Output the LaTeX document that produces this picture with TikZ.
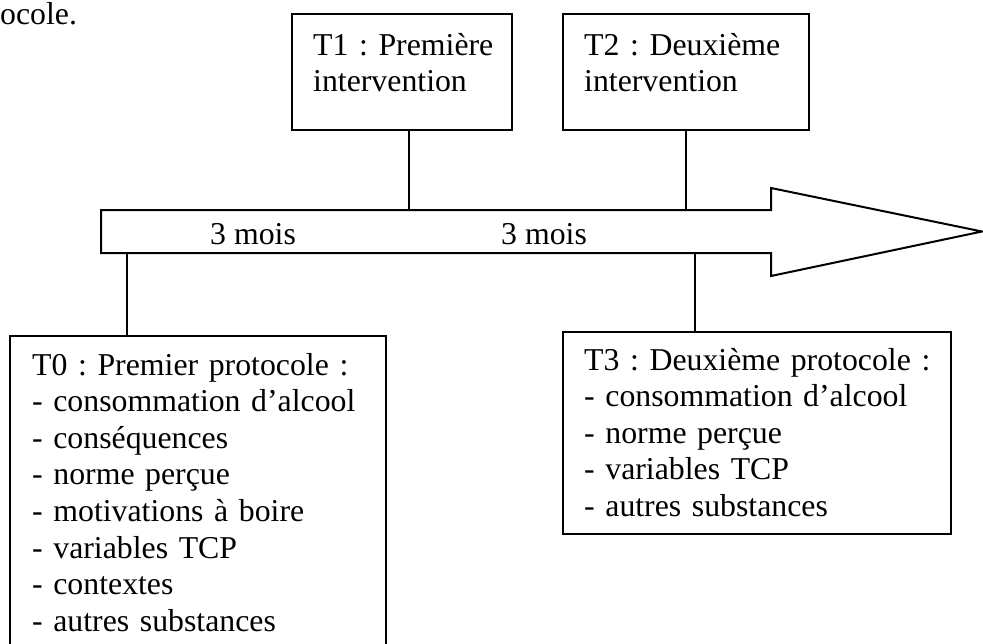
\documentclass[tikz,border=0pt]{standalone}
\usepackage{fontspec}
\setmainfont{Liberation Serif}
\begin{document}
\frenchspacing
\begin{tikzpicture}[x=1pt,y=-1pt,
  every node/.style={font=\fontsize{31.8}{36.6}\selectfont\frenchspacing},
  boxst/.style={draw=black,line width=2pt,fill=white,inner sep=0pt,minimum width=#1},
  txt/.style={anchor=base west,inner sep=0pt,text width=380pt,align=left},
  conn/.style={draw=black,line width=1.5pt},
  shaft/.style={draw=black,line width=2pt,line join=miter,fill=white}]
\useasboundingbox (0,0) rectangle (983,643);

% top-left fragment
\node[anchor=base west,inner sep=0pt] (frag) at (0,24) {ocole.};

% arrow
\draw[shaft] (101,210) -- (771,210) -- (771,188) -- (982,231.5) -- (771,276) -- (771,253) -- (101,253) -- cycle;
\coordinate (s1) at (409,210);
\coordinate (s2) at (686,210);
\coordinate (s0) at (127,253);
\coordinate (s3) at (695,253);
\node[anchor=base west,inner sep=0pt] (m1) at (210,244) {3 mois};
\node[anchor=base west,inner sep=0pt] (m2) at (501,244) {3 mois};

% boxes
\node[boxst=220pt,minimum height=116pt] (T1) at (402,72) {};
\node[boxst=246pt,minimum height=116pt] (T2) at (686,72) {};
\node[boxst=376pt,minimum height=364pt] (T0) at (198,518) {};
\node[boxst=388pt,minimum height=202pt] (T3) at (757,433) {};

% texts
\node[txt] (t1) at (313,55) {T1 : Première\\intervention};
\node[txt] (t2) at (584,55) {T2 : Deuxième\\intervention};
\node[txt] (t0) at (32,375) {T0 : Premier protocole :\\- consommation d’alcool\\- conséquences\\- norme perçue\\- motivations à boire\\- variables TCP\\- contextes\\- autres substances};
\node[txt] (t3) at (584,370) {T3 : Deuxième protocole :\\- consommation d’alcool\\- norme perçue\\- variables TCP\\- autres substances};

% connectors
\draw[conn] (T1.south -| s1) -- (s1);
\draw[conn] (T2.south -| s2) -- (s2);
\draw[conn] (s0) -- (T0.north -| s0);
\draw[conn] (s3) -- (T3.north -| s3);
\end{tikzpicture}
\end{document}
